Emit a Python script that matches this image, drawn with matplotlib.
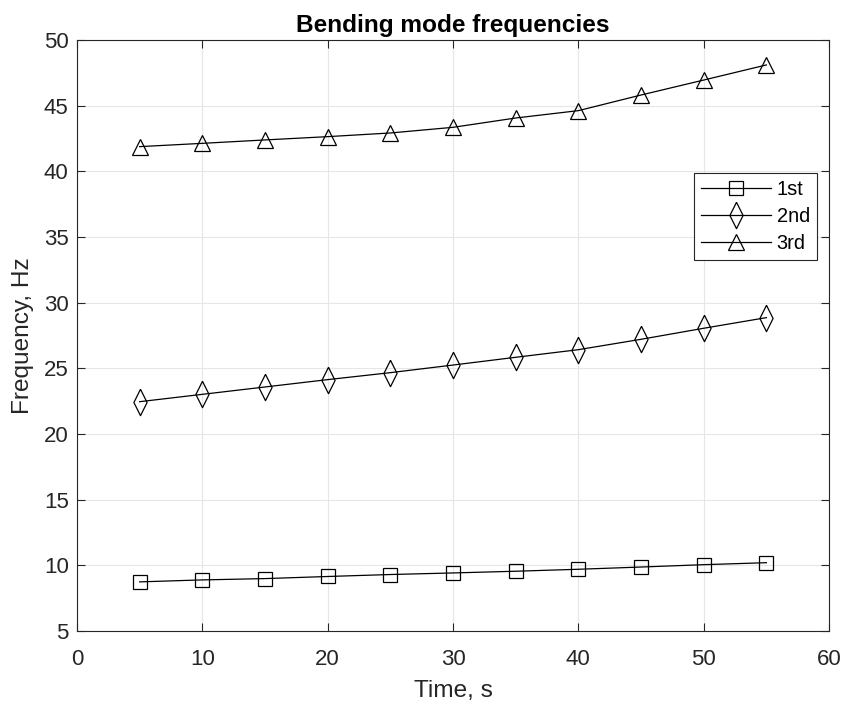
import numpy as np
import matplotlib.pyplot as plt

plt.rcParams['font.family'] = ['Liberation Sans', 'DejaVu Sans']

time_s = [5, 10, 15, 20, 25, 30, 35, 40, 45, 50, 55]
mode1 = [8.74, 8.89, 8.99, 9.15, 9.30, 9.42, 9.55, 9.70, 9.87, 10.05, 10.2]
mode2 = [22.46, 23.02, 23.58, 24.14, 24.67, 25.25, 25.84, 26.42, 27.21, 28.05, 28.86]
mode3 = [41.88, 42.13, 42.39, 42.64, 42.92, 43.35, 44.06, 44.62, 45.81, 46.95, 48.1]
labels = ['1st', '2nd', '3rd']

# MATLAB-ish tall diamond
diamond = [(0, 1), (0.5, 0), (0, -1), (-0.5, 0), (0, 1)]

fig = plt.figure(figsize=(8.47, 7.04), dpi=100)
ax = fig.add_axes([0.0909, 0.1037, 0.8879, 0.8395])

ax.plot(time_s, mode1, '-', color='k', lw=0.9, marker='s', ms=9.5,
        mfc='none', mec='k', mew=0.9, label=labels[0])
ax.plot(time_s, mode2, '-', color='k', lw=0.9, marker=diamond, ms=19,
        mfc='none', mec='k', mew=0.9, label=labels[1])
ax.plot(time_s, mode3, '-', color='k', lw=0.9, marker='^', ms=11.5,
        mfc='none', mec='k', mew=0.9, label=labels[2])

ax.set_xlim(0, 60)
ax.set_ylim(5, 50)
ax.set_xticks(np.arange(0, 61, 10))
ax.set_yticks(np.arange(5, 51, 5))
ax.grid(True, color='#e6e6e6', lw=0.8)
ax.set_axisbelow(True)
for s in ax.spines.values():
    s.set_color('#262626')
    s.set_linewidth(0.8)
ax.tick_params(direction='in', length=6, width=0.8, colors='#262626',
               labelsize=16, top=True, right=True)
ax.tick_params(axis='x', pad=13)
ax.tick_params(axis='y', pad=6)

ax.set_xlabel('Time, s', fontsize=17.6, color='#262626', labelpad=7)
ax.set_ylabel('Frequency, Hz', fontsize=17.6, color='#262626', labelpad=7)
ax.set_title('Bending mode frequencies', fontsize=17.6, fontweight='bold', pad=6)

leg = ax.legend(loc='upper right', bbox_to_anchor=(0.984, 0.775), borderaxespad=0,
                fontsize=14.4, fancybox=False, edgecolor='#262626', framealpha=1,
                handlelength=3.5, handletextpad=0.3, labelspacing=0.4,
                borderpad=0.35)
leg.get_frame().set_linewidth(0.8)

fig.savefig('out.png', dpi=100)
